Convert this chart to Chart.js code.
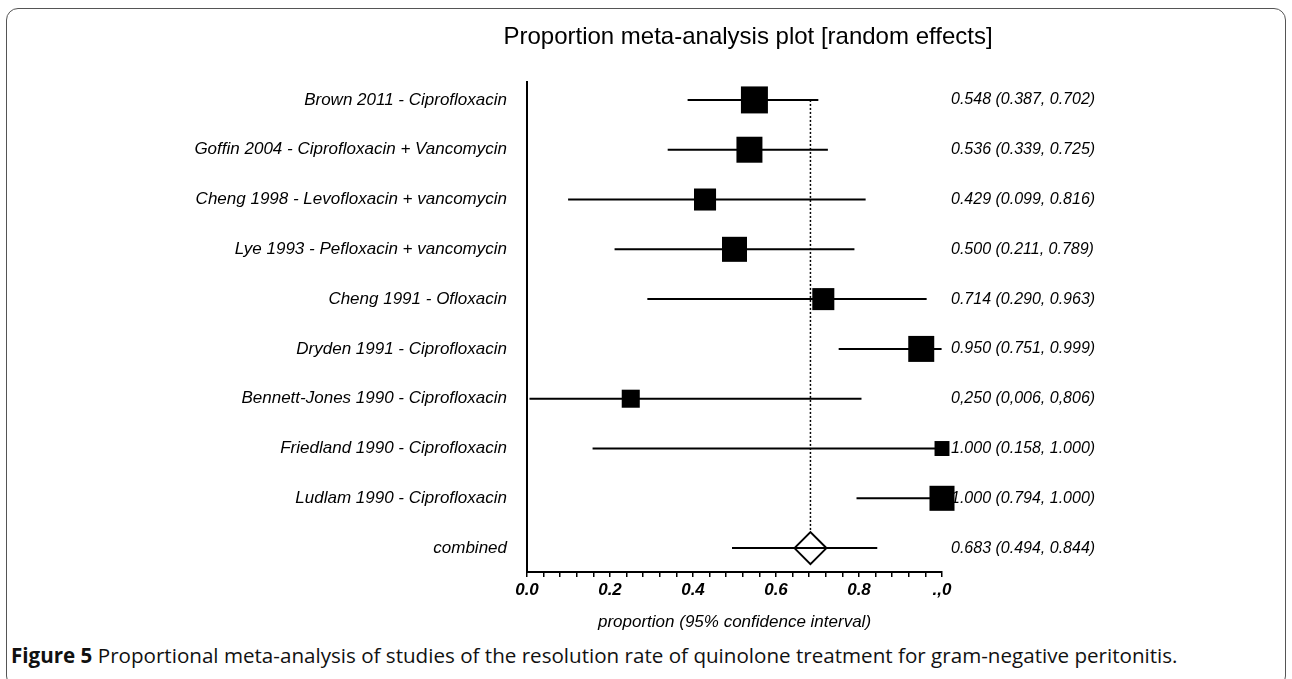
<!DOCTYPE html>
<html>
<head>
<meta charset="utf-8">
<title>Proportion meta-analysis plot</title>
<script src="https://cdn.jsdelivr.net/npm/chart.js@4/dist/chart.umd.min.js"></script>
<style>
    body { margin: 0; background: #fff; }
    .page { position: relative; width: 1292px; height: 679px; overflow: hidden; }
    .frame {
        position: absolute; left: 6px; top: 8px; width: 1280px; height: 680px;
        border: 1.5px solid #555; border-radius: 12px; box-sizing: border-box;
    }
    .plot { position: absolute; left: 0; top: 0; width: 1292px; height: 640px; }
    .caption {
        position: absolute; left: 11px; top: 641px;
        font-family: 'Open Sans', 'Noto Sans', sans-serif; font-size: 20.6px; color: #111;
        white-space: nowrap;
    }
    .caption b { font-weight: 700; }
</style>
</head>
<body>
<div class="page">
    <div class="frame"></div>
    <div class="plot"><canvas id="forest"></canvas></div>
    <div class="caption"><b>Figure 5</b> Proportional meta-analysis of studies of the resolution rate of quinolone treatment for gram-negative peritonitis.</div>
</div>

<script>
// Study data
const studies = [
    'Brown 2011 - Ciprofloxacin',
    'Goffin 2004 - Ciprofloxacin + Vancomycin',
    'Cheng 1998 - Levofloxacin + vancomycin',
    'Lye 1993 - Pefloxacin + vancomycin',
    'Cheng 1991 - Ofloxacin',
    'Dryden 1991 - Ciprofloxacin',
    'Bennett-Jones 1990 - Ciprofloxacin',
    'Friedland 1990 - Ciprofloxacin',
    'Ludlam 1990 - Ciprofloxacin'
];
const estimates = [0.548, 0.536, 0.429, 0.500, 0.714, 0.950, 0.250, 1.000, 1.000];
const lower = [0.387, 0.339, 0.099, 0.211, 0.290, 0.751, 0.006, 0.158, 0.794];
const upper = [0.702, 0.725, 0.816, 0.789, 0.963, 0.999, 0.806, 1.000, 1.000];
// relative (random effects) weights in %, shown as box area
const weights = [15.0, 13.9, 10.0, 12.9, 10.0, 13.9, 6.7, 4.6, 12.9];
const intervalText = [
    '0.548 (0.387, 0.702)',
    '0.536 (0.339, 0.725)',
    '0.429 (0.099, 0.816)',
    '0.500 (0.211, 0.789)',
    '0.714 (0.290, 0.963)',
    '0.950 (0.751, 0.999)',
    '0,250 (0,006, 0,806)',
    '1.000 (0.158, 1.000)',
    '1.000 (0.794, 1.000)'
];

const pooledLabel = 'combined';
const pooled = 0.683;
const pooledLower = 0.494;
const pooledUpper = 0.844;
const pooledText = '0.683 (0.494, 0.844)';

const xTickLabels = ['0.0', '0.2', '0.4', '0.6', '0.8', '.,0'];
const chartTitle = 'Proportion meta-analysis plot [random effects]';
const axisTitle = 'proportion (95% confidence interval)';

// rows: studies first, pooled estimate last
const rowLabels = studies.concat([pooledLabel]);
const rowText = intervalText.concat([pooledText]);
const rows = rowLabels.map((_, i) => i);
const pooledRow = studies.length;

// whiskers as one broken line
const whiskers = [];
studies.forEach((_, i) => {
    whiskers.push({ x: lower[i], y: i }, { x: upper[i], y: i }, { x: null, y: null });
});
whiskers.push({ x: pooledLower, y: pooledRow }, { x: pooledUpper, y: pooledRow });

const boxes = estimates.map((v, i) => ({ x: v, y: i }));
const diamondHalf = 16;

// minor ticks every 0.04, labels every 0.2
const xTicks = [];
for (let i = 0; i <= 25; i++) xTicks.push(Math.round(i * 4) / 100);

const FONT = "'Liberation Sans', Arial, sans-serif";

const titlePlugin = {
    id: 'plotTitle',
    afterDraw(chart) {
        const ctx = chart.ctx;
        ctx.save();
        ctx.font = '24px ' + FONT;
        ctx.fillStyle = '#000';
        ctx.textAlign = 'center';
        ctx.textBaseline = 'middle';
        ctx.fillText(chartTitle, 748, 37);
        ctx.restore();
    }
};

new Chart(document.getElementById('forest'), {
    type: 'scatter',
    data: {
        datasets: [
            {
                label: 'studies',
                data: boxes,
                pointStyle: 'rect',
                pointRadius: (c) => 6.97 * Math.sqrt(weights[c.dataIndex]) / (2 * Math.SQRT1_2),
                backgroundColor: '#000',
                borderWidth: 0,
                clip: false
            },
            {
                label: 'pooled',
                data: [{ x: pooled, y: pooledRow }],
                pointStyle: 'rectRot',
                pointRadius: diamondHalf,
                backgroundColor: 'rgba(0,0,0,0)',
                borderColor: '#000',
                borderWidth: 2,
                clip: false
            },
            {
                label: 'ci',
                type: 'line',
                data: whiskers,
                showLine: true,
                spanGaps: false,
                pointRadius: 0,
                borderColor: '#000',
                borderWidth: 2,
                clip: false
            },
            {
                label: 'pooled line',
                type: 'line',
                data: [{ x: pooled, y: 0 }, { x: pooled, y: pooledRow - 0.32 }],
                showLine: true,
                pointRadius: 0,
                borderColor: '#000',
                borderWidth: 1.5,
                borderDash: [2, 2]
            }
        ]
    },
    options: {
        responsive: true,
        maintainAspectRatio: false,
        animation: false,
        events: [],
        layout: { padding: { top: 82, left: 0, right: 0, bottom: 0 } },
        plugins: {
            legend: { display: false },
            tooltip: { enabled: false }
        },
        scales: {
            x: {
                type: 'linear',
                min: 0,
                max: 1,
                afterBuildTicks: (scale) => { scale.ticks = xTicks.map(v => ({ value: v })); },
                afterFit: (scale) => { scale.height = 68; },
                ticks: {
                    autoSkip: false,
                    maxRotation: 0,
                    padding: 3,
                    color: '#000',
                    font: { family: FONT, size: 17, style: 'italic', weight: 'bold' },
                    callback: (v) => {
                        const k = Math.round(v * 100);
                        return k % 20 === 0 ? xTickLabels[k / 20] : '';
                    }
                },
                grid: {
                    display: true,
                    drawOnChartArea: false,
                    drawTicks: true,
                    tickLength: 5,
                    color: '#000',
                    lineWidth: 1.5
                },
                border: { display: true, color: '#000', width: 2 },
                title: {
                    display: true,
                    text: axisTitle,
                    color: '#000',
                    padding: { top: 4, bottom: 8 },
                    font: { family: FONT, size: 17, style: 'italic' }
                }
            },
            y: {
                type: 'linear',
                position: 'left',
                reverse: true,
                min: -0.36,
                max: 9.48,
                afterBuildTicks: (scale) => { scale.ticks = rows.map(v => ({ value: v })); },
                afterFit: (scale) => { scale.width = 527; },
                ticks: {
                    autoSkip: false,
                    padding: 20,
                    color: '#000',
                    font: { family: FONT, size: 17, style: 'italic' },
                    callback: (v) => rowLabels[v]
                },
                grid: { display: false, drawTicks: false },
                border: { display: true, color: '#000', width: 2 }
            },
            y2: {
                type: 'linear',
                position: 'right',
                reverse: true,
                min: -0.36,
                max: 9.48,
                afterBuildTicks: (scale) => { scale.ticks = rows.map(v => ({ value: v })); },
                afterFit: (scale) => { scale.width = 1292 - 942; },
                ticks: {
                    autoSkip: false,
                    padding: 9,
                    color: '#000',
                    font: { family: FONT, size: 16, style: 'italic' },
                    callback: (v) => rowText[v]
                },
                grid: { display: false, drawTicks: false },
                border: { display: false }
            }
        }
    },
    plugins: [titlePlugin]
});
</script>
</body>
</html>
